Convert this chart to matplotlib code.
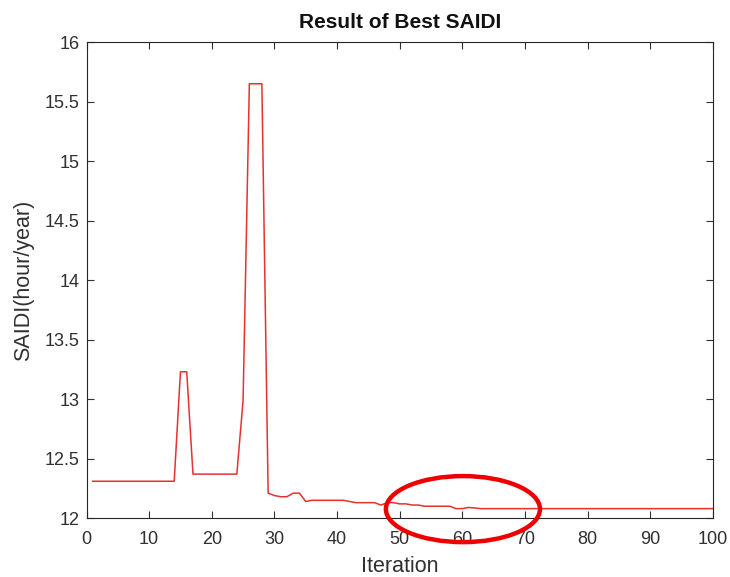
import matplotlib
matplotlib.use("Agg")
import matplotlib.pyplot as plt
from matplotlib.patches import Ellipse

plt.rcParams["font.family"] = ["Liberation Sans", "DejaVu Sans"]

iterations = list(range(1, 101))
saidi = (
    [12.31] * 14
    + [13.23, 13.23]
    + [12.37] * 8
    + [12.99, 15.65, 15.65, 15.65]
    + [12.21, 12.19, 12.18, 12.18, 12.21, 12.21, 12.14]
    + [12.15] * 6
    + [12.14, 12.13, 12.13, 12.13, 12.13, 12.11, 12.13, 12.13]
    + [12.12, 12.12, 12.11, 12.11]
    + [12.10] * 5
    + [12.08, 12.08, 12.09, 12.085]
    + [12.08] * 38
)

title = "Result of Best SAIDI"
xlabel = "Iteration"
ylabel = "SAIDI(hour/year)"
xticks = list(range(0, 101, 10))
yticks = [12, 12.5, 13, 13.5, 14, 14.5, 15, 15.5, 16]

fig = plt.figure(figsize=(7.3, 5.77), dpi=100)
ax = fig.add_axes([0.1185, 0.102, 0.858, 0.825])

ax.plot(iterations, saidi, color="#e5322f", lw=1.1)

ax.set_xlim(0, 100)
ax.set_ylim(12, 16)
ax.set_xticks(xticks)
ax.set_yticks(yticks)
ax.set_yticklabels([f"{t:g}" for t in yticks])

txt = "#303030"
ax.tick_params(direction="in", length=5, width=0.8, colors=txt,
               labelsize=13, top=True, right=True, labeltop=False, labelright=False)
ax.tick_params(axis="x", pad=9)
ax.tick_params(axis="y", pad=5)
for s in ax.spines.values():
    s.set_color("#262626")
    s.set_linewidth(0.8)

ax.set_title(title, fontsize=15, fontweight="bold", color="#111111", pad=10)
ax.set_xlabel(xlabel, fontsize=15.5, color=txt, labelpad=6)
ax.set_ylabel(ylabel, fontsize=15.5, color=txt, labelpad=8)

# red highlight around the converged tail
ell = Ellipse((60.1, 12.076), 24.6, 0.555, fill=False, edgecolor="#ee0000",
              lw=3.2, clip_on=False, zorder=5)
ax.add_patch(ell)

fig.savefig("out.png", dpi=100)
